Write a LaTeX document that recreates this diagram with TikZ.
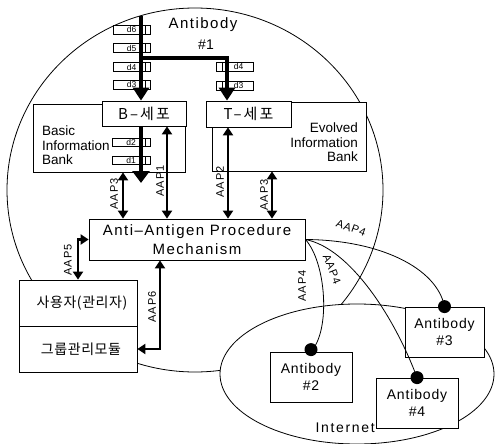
\documentclass[tikz,border=0pt]{standalone}
\usepackage{fontspec}
\setmainfont{Liberation Sans}
\newfontfamily\kr[LetterSpace=4]{Noto Sans CJK KR}
\newfontfamily\krwide[LetterSpace=14]{Noto Sans CJK KR}
\newfontfamily\wide[LetterSpace=10]{Liberation Sans}
\newfontfamily\semiwide[LetterSpace=6]{Liberation Sans}
\newfontfamily\netfont[LetterSpace=12]{Liberation Sans}
\newfontfamily\aapfont[LetterSpace=8]{Liberation Sans}
\usetikzlibrary{arrows.meta}

\begin{document}
\begin{tikzpicture}[x=1pt,y=-1pt,
  outline/.style={line width=0.8pt},
  box/.style={draw, fill=white, line width=0.8pt, inner sep=0pt},
  dbox/.style={draw, fill=white, line width=0.7pt, minimum width=37, minimum height=9,
    inner sep=0pt, font=\fontsize{8.5}{9}\selectfont},
  dleft/.style={dbox, path picture={\draw[line width=0.7pt]
      ([xshift=-5pt]path picture bounding box.north east) --
      ([xshift=-5pt]path picture bounding box.south east);}},
  dright/.style={dbox, path picture={\draw[line width=0.7pt]
      ([xshift=6pt]path picture bounding box.north west) --
      ([xshift=6pt]path picture bounding box.south west);}},
  bigarrow/.style={line width=4.6pt, line join=miter, -{Triangle[width=16pt,length=13pt]}},
  aap/.style={line width=2.8pt, {Triangle[width=10pt,length=8pt]}-{Triangle[width=10pt,length=8pt]}},
  aaplabel/.style={font=\aapfont\fontsize{11}{12}\selectfont, inner sep=0pt},
  link/.style={line width=0.8pt},
  dot/.style={circle, fill=black, minimum size=13pt, inner sep=0pt},
  cellfont/.style={font=\krwide\fontsize{15}{17}\selectfont},
  userfont/.style={font=\kr\fontsize{14}{16}\selectfont},
  ablabel/.style={font=\semiwide\fontsize{14}{17}\selectfont, align=center},
]
\useasboundingbox (0,0) rectangle (498,444);

% cell boundary and network region
\draw[outline] (195,190) ellipse [x radius=188, y radius=182];
\draw[outline, fill=white] (357,374) ellipse [x radius=137, y radius=70];

% information banks and cells
\node[box, minimum width=152, minimum height=68] (bankB) at (109,138) {};
\node[box, minimum width=154, minimum height=69] (bankE) at (289,136.5) {};
\node[box, minimum width=84, minimum height=25, cellfont] (bcell) at (144,113.5) {B–세포};
\node[box, minimum width=85, minimum height=26, cellfont] (tcell) at (248.5,114) {T–세포};
\node[anchor=west, align=left, inner sep=0pt, font=\fontsize{13.5}{14.5}\selectfont]
  (btext) at (42,145.5) {Basic\\Information\\Bank};
\node[anchor=east, align=right, inner sep=0pt, font=\fontsize{13.5}{14.5}\selectfont]
  (etext) at (358,142.5) {Evolved\\Information\\Bank};

% procedure mechanism
\node[box, minimum width=216, minimum height=41, align=center,
  font=\wide\fontsize{15}{19}\selectfont] (mech) at (197,239.5)
  {Anti–Antigen Procedure\\Mechanism};

% user and group modules
\node[box, minimum width=118, minimum height=46, userfont] (user) at (78,303)
  {\hspace{8pt}사용자(관리자)};
\node[box, minimum width=118, minimum height=46, userfont] (group) at (78,349)
  {\hspace{6pt}그룹관리모듈};

% remote antibodies
\node[box, minimum width=82, minimum height=50, ablabel] (ab2) at (311,377) {Antibody\\\#2};
\node[box, minimum width=79, minimum height=50, ablabel] (ab3) at (444.5,332) {Antibody\\\#3};
\node[box, minimum width=82, minimum height=50, ablabel] (ab4) at (417,403) {Antibody\\\#4};
\node[anchor=south east, inner sep=0pt, font=\netfont\fontsize{14}{16}\selectfont]
  (net) at (375,433) {Internet};

% title
\node[font=\wide\fontsize{15}{17}\selectfont, inner sep=0pt] (title) at (203,25) {Antibody};
\node[font=\fontsize{14}{16}\selectfont, inner sep=0pt] (titlenum) at (206,45) {\#1};

% data segments
\node[dleft] (l6) at (131.5,29.5) {d6\hspace{6pt}};
\node[dleft] (l5) at (131.5,48) {d5\hspace{6pt}};
\node[dleft] (l4) at (131.5,67) {d4\hspace{6pt}};
\node[dleft] (l3) at (131.5,84.5) {d3\hspace{6pt}};
\node[dright] (r4) at (234.5,66.5) {\hspace{8pt}d4};
\node[dright] (r3) at (234.5,85.5) {\hspace{8pt}d3};
\node[dleft, minimum width=38, minimum height=8] (l2) at (131,142) {d2\hspace{6pt}};
\node[dleft, minimum width=38, minimum height=8] (l1) at (131,160) {d1\hspace{6pt}};

% AAP4 links to the remote antibodies
\draw[link] (mech.east) .. controls (326,262) and (331,330) .. (ab2.north);
\draw[link] (mech.east) .. controls (350,248) and (395,318) .. (ab4.north);
\draw[link] (mech.east) .. controls (380,240) and (437,268) .. (ab3.north);
\node[dot] (dot2) at ([yshift=2pt]ab2.north) {};
\node[dot] (dot3) at (ab3.north) {};
\node[dot] (dot4) at (ab4.north) {};
\node[aaplabel, rotate=90] (l4a) at (302,286) {AAP4};
\node[aaplabel, rotate=-68] (l4b) at (332,269) {AAP4};
\node[aaplabel, rotate=-20] (l4c) at (351,228) {AAP4};

% data flow into the cells
\coordinate (src) at (141,16);
\coordinate (fork) at (141,58);
\coordinate (bend) at (227,58);
\draw[bigarrow] (src) -- (src |- bcell.north);
\draw[bigarrow] (fork) -- (bend) -- (bend |- tcell.north);
\path ([xshift=-3pt]bcell.south) coordinate (bout);
\coordinate (bend2) at (141,183);
\draw[line width=4.6pt, -{Triangle[width=17pt,length=12pt]}] (bout) -- (bend2);

% AAP interfaces
\path ([xshift=14pt]bankB.south) coordinate (p3l);
\path ([xshift=23pt]bcell.south) coordinate (p1);
\path ([xshift=-20.5pt]tcell.south) coordinate (p2);
\path ([xshift=-17pt]bankE.south) coordinate (p3r);
\path ([xshift=-37pt]mech.south) coordinate (p6);
\draw[aap] (p3l) -- (p3l |- mech.north);
\draw[aap] (p1) -- (p1 |- mech.north);
\draw[aap] (p2) -- (p2 |- mech.north);
\draw[aap] (p3r) -- (p3r |- mech.north);
\draw[aap] (mech.west) -| (user.north);
\draw[aap] (p6) |- (group.east);
\node[aaplabel, rotate=90] (t3l) at (114,194) {AAP3};
\node[aaplabel, rotate=90] (t1) at (160,181) {AAP1};
\node[aaplabel, rotate=90] (t2) at (220,182) {AAP2};
\node[aaplabel, rotate=90] (t3r) at (264,195) {AAP3};
\node[aaplabel, rotate=90] (t5) at (68,260) {AAP5};
\node[aaplabel, rotate=90] (t6) at (152,307) {AAP6};
\end{tikzpicture}
\end{document}
